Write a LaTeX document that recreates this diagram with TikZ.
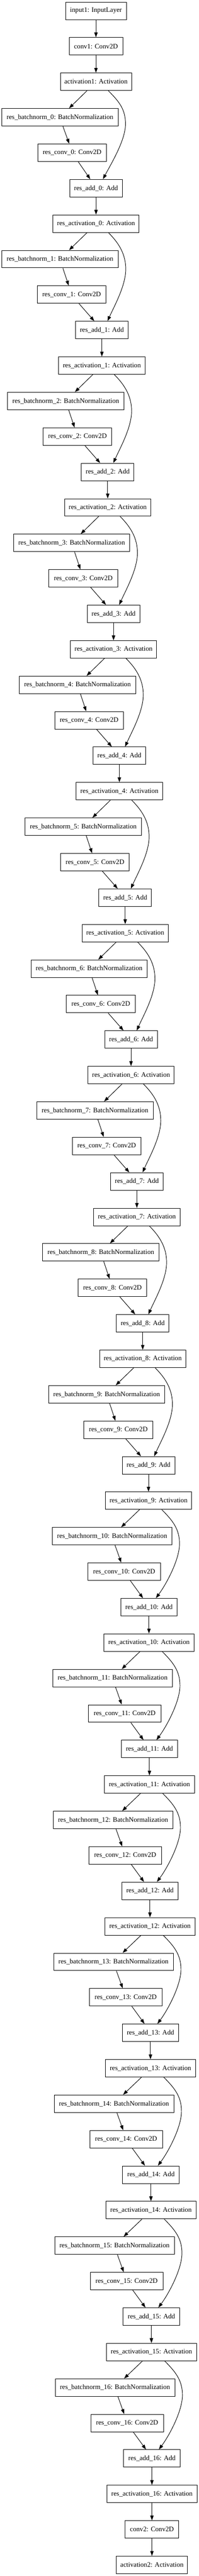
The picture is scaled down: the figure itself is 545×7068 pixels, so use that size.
\documentclass[tikz,border=0pt]{standalone}
\usepackage{fontspec}
\setmainfont{Liberation Serif}
\usetikzlibrary{arrows.meta,calc}
\begin{document}
\begin{tikzpicture}[x=0.75pt,y=-0.75pt,
  box/.style={draw=black, line width=1pt, minimum height=36pt, minimum width=#1,
    inner sep=0pt, font=\fontsize{14pt}{16pt}\selectfont},
  arr/.style={-{Triangle[length=10pt,width=7pt]}, line width=1pt, draw=black}]
\useasboundingbox (0,0) rectangle (545,7068);
\fill[white] (0,0) rectangle (545,7068);

\node[box=125.1pt] (in) at (263.1,29.7) {input1: InputLayer};
\node[box=110pt] (c1) at (263.1,127.03) {conv1: Conv2D};
\node[box=146pt] (act-1) at (263.1,224.36) {activation1: Activation};
\draw[arr] (in) -- (c1);
\draw[arr] (c1) -- (act-1);

\foreach \i/\xm/\xb/\xc in {0/263.3/164.4/197.8, 1/279.3/164.4/196.4,
  2/295.3/180.4/212.4, 3/311.3/196.4/228.4, 4/327.3/212.4/244.4,
  5/343.3/228.4/260.4, 6/359.3/244.4/276.4, 7/375.3/260.4/292.4,
  8/391.3/276.4/308.4, 9/407.2/292.4/324.4, 10/408.4/307.3/340.5,
  11/409.8/308.7/341.8, 12/411.2/310.0/343.1, 13/412.6/311.1/344.6,
  14/413.9/312.5/345.8, 15/415.2/313.9/347.1, 16/416.6/315.3/348.5}{
  \pgfmathtruncatemacro\prv{\i-1}
  \pgfmathsetmacro\yB{29.7+97.33*(3+4*\i)}
  \pgfmathsetmacro\yC{\yB+97.33}
  \pgfmathsetmacro\yD{\yB+2*97.33}
  \pgfmathsetmacro\yE{\yB+3*97.33}
  \pgfmathsetmacro\wB{ifthenelse(\i<10,239.3,246.1)}
  \pgfmathsetmacro\wC{ifthenelse(\i<10,141.3,149.4)}
  \pgfmathsetmacro\wD{ifthenelse(\i<10,108.2,116.3)}
  \pgfmathsetmacro\wE{ifthenelse(\i<10,177.3,185.4)}
  \pgfmathsetmacro\cA{ifthenelse(\i==0,16.7,ifthenelse(\i<10,20.2,16.8))}
  \pgfmathsetmacro\cB{ifthenelse(\i==0,-15.8,ifthenelse(\i<10,-20.7,-16.3))}
  \pgfmathsetmacro\sX{ifthenelse(\i<10,34,36.5)}
  \pgfmathsetmacro\mX{ifthenelse(\i==0,81,ifthenelse(\i<10,81.5,85))}
  \pgfmathsetmacro\mY{ifthenelse(\i==0,116,ifthenelse(\i<10,125,118))}
  \pgfmathsetmacro\eX{ifthenelse(\i==0,19,ifthenelse(\i<10,15.5,19))}
  \pgfmathsetmacro\tX{ifthenelse(\i==0,21,ifthenelse(\i<10,18.5,27))}
  \pgfmathsetmacro\tY{ifthenelse(\i==0,-40,ifthenelse(\i<10,-41,-36))}
  \node[box=\wB pt] (bn\i) at (\xb,\yB) {res\_batchnorm\_\i: BatchNormalization};
  \node[box=\wC pt] (cv\i) at (\xc,\yC) {res\_conv\_\i: Conv2D};
  \node[box=\wD pt] (add\i) at (\xm,\yD) {res\_add\_\i: Add};
  \node[box=\wE pt] (act\i) at (\xm,\yE) {res\_activation\_\i: Activation};
  \draw[arr] ($(act\prv.south)+(-24.7,0)$) -- ($(bn\i.north)+(25,0)$);
  \draw[arr] ($(bn\i.south)+(8,0)$) -- ($(cv\i.north)+(-8,0)$);
  \draw[arr] ($(cv\i.south)+(\cA,0)$) -- ($(add\i.north)+(\cB,0)$);
  \draw[arr] (add\i) -- (act\i);
  \draw[arr] ($(act\prv.south)+(\sX,0)$)
    .. controls ($(act\prv.south)+(\sX+30,30)$) and ($(act\prv.center)+(\mX,\mY-40)$)
    .. ($(act\prv.center)+(\mX,\mY)$)
    .. controls ($(act\prv.center)+(\mX,\mY+45)$) and ($(add\i.north)+(\eX+\tX,\tY)$)
    .. ($(add\i.north)+(\eX,0)$);
}

\node[box=110.3pt] (c2) at (416.6,6940.13) {conv2: Conv2D};
\node[box=146.3pt] (a2) at (416.6,7037.46) {activation2: Activation};
\draw[arr] (act16) -- (c2);
\draw[arr] (c2) -- (a2);
\end{tikzpicture}
\end{document}
